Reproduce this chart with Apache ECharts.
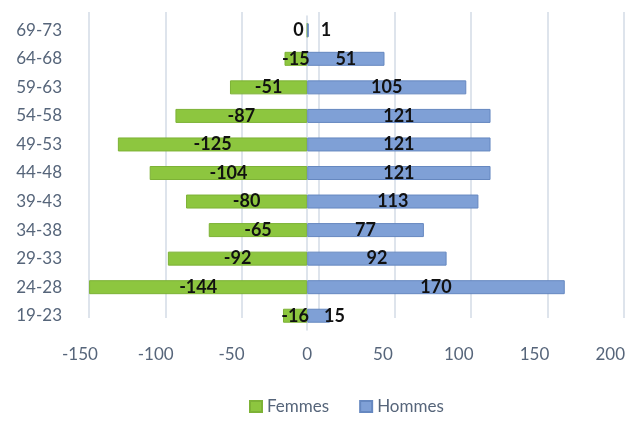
<!DOCTYPE html>
<html><head><meta charset="utf-8">
<script src="https://cdn.jsdelivr.net/npm/echarts@6/dist/echarts.min.js"></script>
<style>html,body{margin:0;padding:0;background:#fff}#c{width:628px;height:422px}</style>
</head><body><div id="c"></div>
<script>
var categories = ['19-23','24-28','29-33','34-38','39-43','44-48','49-53','54-58','59-63','64-68','69-73'];
var femmes = [-16,-144,-92,-65,-80,-104,-125,-87,-51,-15,0];
var hommes = [15,170,92,77,113,121,121,121,105,51,1];
var xTicks = [-150,-100,-50,0,50,100,150,200];

var txt = '#56657a';
var gridC = '#d3dbe6';
var font = 'Lato';
var lbl = {show:true, position:'inside', color:'#111', fontWeight:'bold', fontSize:18, fontFamily:font};

function femItem(v){
  if (v === 0) return {value:v, label:{position:'left', distance:3}};
  return v;
}
function homItem(v){
  if (v < 5) return {value:v, label:{position:'right', distance:12}};
  if (v < 20) return {value:v, label:{position:'right', distance:-6}};
  return v;
}

var chart = echarts.init(document.getElementById('c'));
chart.setOption({
  animation:false,
  textStyle:{fontFamily:font},
  grid:[
    {left:80, right:10, top:16, bottom:92},
    {left:89, right:4, top:12, bottom:104}
  ],
  xAxis:[
    {gridIndex:0, type:'value', min:xTicks[0], max:xTicks[xTicks.length-1], interval:50,
     axisLine:{show:false}, axisTick:{show:false}, splitLine:{show:false},
     axisLabel:{color:txt, fontSize:17, fontFamily:font, margin:16}},
    {gridIndex:1, type:'value', min:xTicks[0], max:xTicks[xTicks.length-1], interval:50,
     axisLine:{show:false}, axisTick:{show:false}, axisLabel:{show:false},
     splitLine:{show:true, lineStyle:{color:gridC, width:1.5}}}
  ],
  yAxis:[
    {gridIndex:0, type:'category', data:categories,
     axisLine:{show:true, lineStyle:{color:gridC, width:1.5}}, axisTick:{show:false},
     axisLabel:{color:txt, fontSize:17, fontFamily:font, margin:18}},
    {gridIndex:1, type:'category', data:categories, show:false}
  ],
  legend:{bottom:2, left:244, itemWidth:12, itemHeight:11, itemGap:30,
    icon:'rect', textStyle:{color:txt, fontSize:17, fontFamily:font},
    data:['Femmes','Hommes']},
  series:[
    {name:'Femmes', type:'bar', xAxisIndex:0, yAxisIndex:0, data:femmes.map(femItem), barWidth:14, barGap:'-100%',
     itemStyle:{color:'#8dc63f', borderColor:'#7db236', borderWidth:1},
     label:lbl},
    {name:'Hommes', type:'bar', xAxisIndex:0, yAxisIndex:0, data:hommes.map(homItem), barWidth:14,
     itemStyle:{color:'#7fa0d6', borderColor:'#6688c0', borderWidth:1},
     label:lbl}
  ]
});
</script></body></html>
